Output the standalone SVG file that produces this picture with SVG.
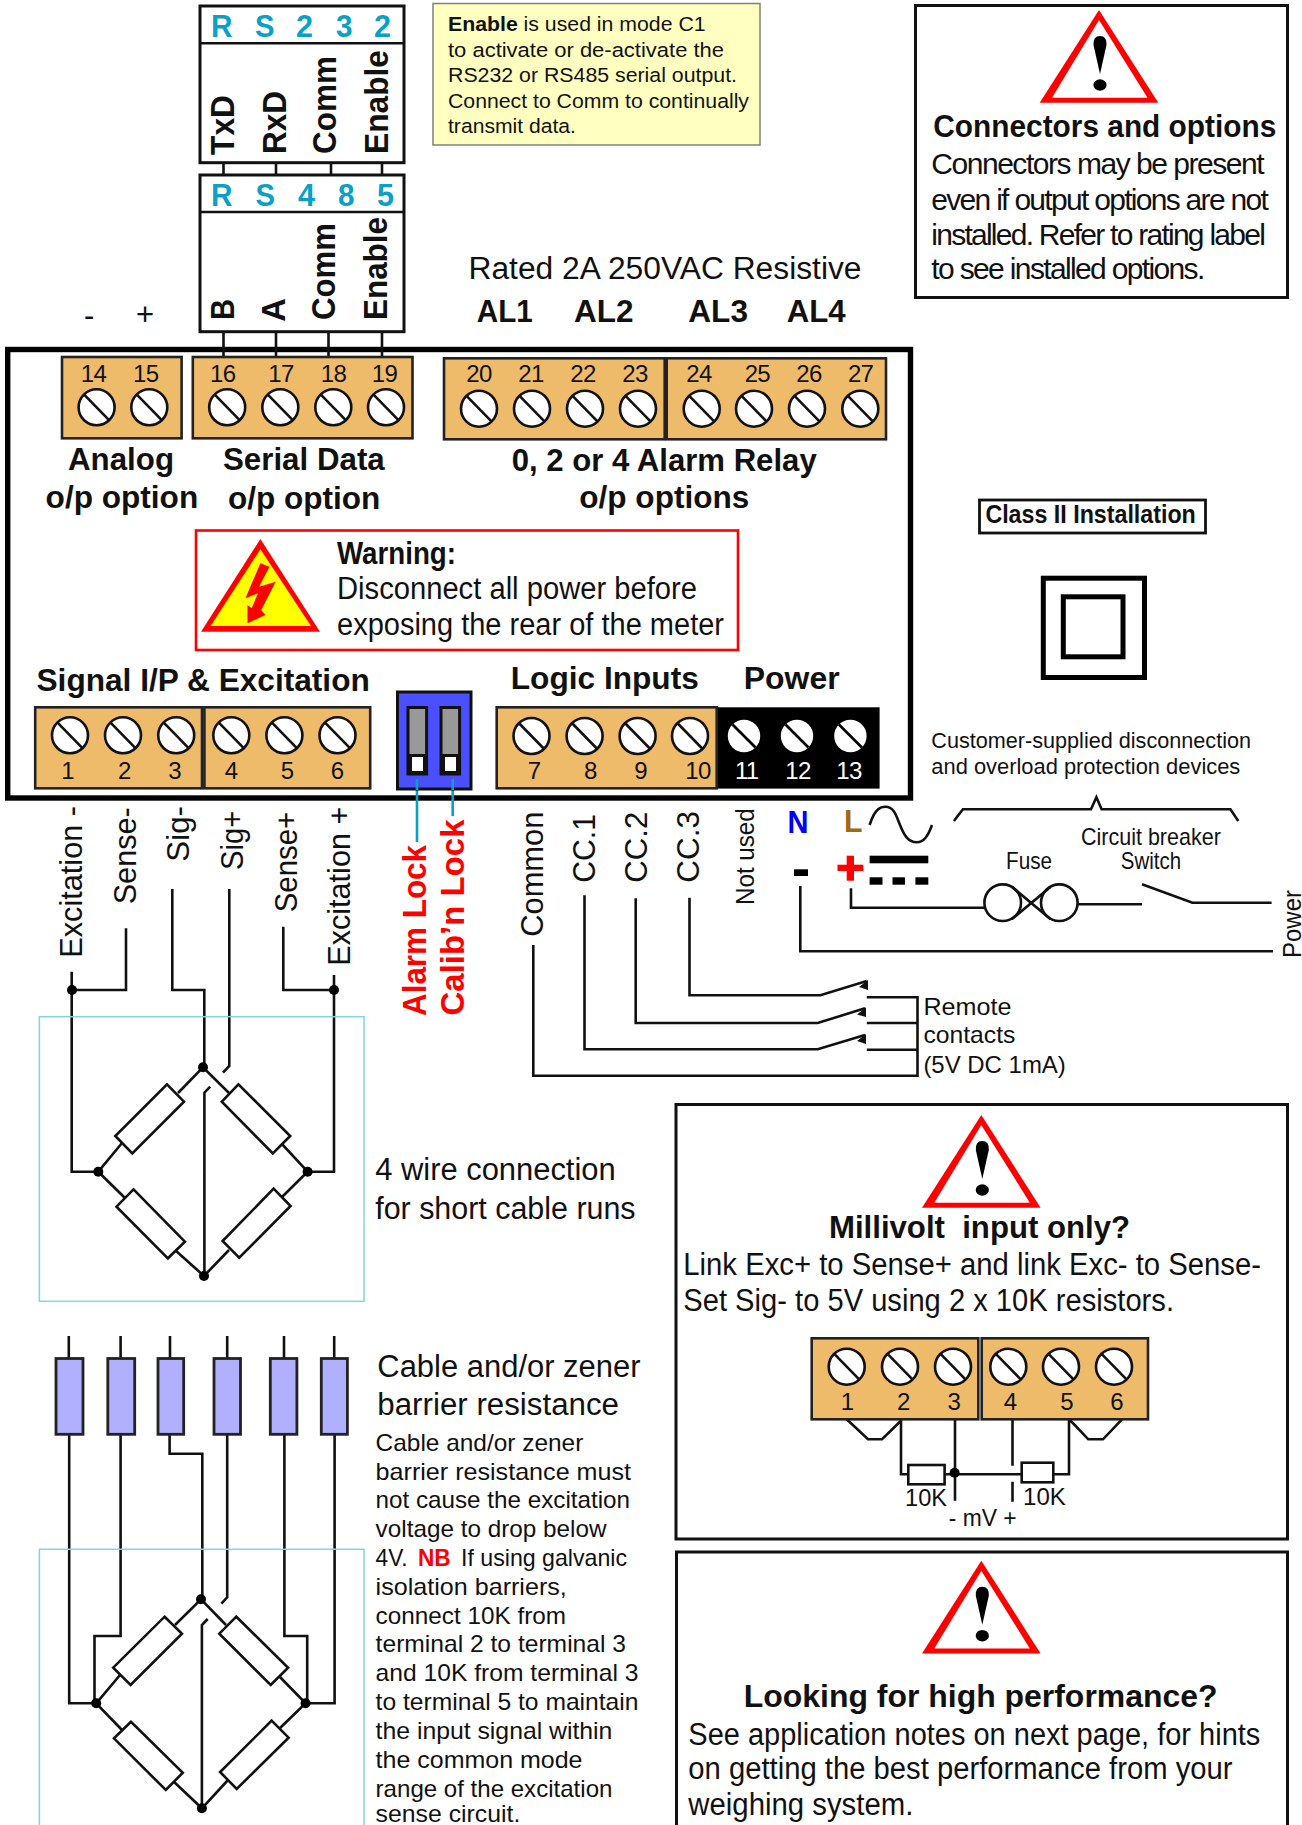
<svg xmlns="http://www.w3.org/2000/svg" width="1302" height="1825" viewBox="0 0 1302 1825">
<style>
text{font-family:"Liberation Sans",Arial,sans-serif;fill:#111}
.b{font-weight:700}
.w{fill:none;stroke:#111;stroke-width:2.6;stroke-linejoin:miter}
.box{fill:#fff;stroke:#111;stroke-width:3}
.blk{fill:#edbb6a;stroke:#222;stroke-width:2.6}
.res{fill:#fff;stroke:#111;stroke-width:2.6}
.blue{fill:#b0b0ff;stroke:#222;stroke-width:2.8}
.cy{fill:none;stroke:#80d4e8;stroke-width:1.5}
.n{font-size:24px;text-anchor:middle;letter-spacing:-.7px}
.nw{font-size:24px;text-anchor:middle;fill:#fff;letter-spacing:-.7px}
.rs{font-size:32px;font-weight:700;fill:#0aa0c8}
.v{font-size:32px}
.vb{font-size:33px;font-weight:700}
.h{font-size:31px;font-weight:700}
.t{font-size:31px}
.t2{font-size:30px}
.s{font-size:24px}
.m{font-size:20.5px}
.r{fill:#f00}
</style>
<defs>
<g id="screw"><circle r="18" fill="#fff" stroke="#111" stroke-width="2.6"/><line x1="-12.7" y1="-13" x2="12.7" y2="13" stroke="#111" stroke-width="2.6"/></g>
<g id="screww"><circle r="16.2" fill="#fff"/><line x1="-11.5" y1="-11.5" x2="11.5" y2="11.5" stroke="#000" stroke-width="2.6"/></g>
<g id="caution"><polygon points="0,0 59.3,92.7 -59.3,92.7" fill="#f00"/><polygon points="0,10 48.5,87.7 -47,87.7" fill="#fff"/><path d="M1 64 L-5.5 35 Q-6 26 1 26 Q8 26 7.5 35 Z" fill="#000"/><ellipse cx="1" cy="75" rx="6.6" ry="5.8" fill="#000"/></g>
<g id="dot"><circle r="5" fill="#000"/></g>
</defs>
<rect width="1302" height="1825" fill="#fff"/>

<g id="frame"><rect x="7.7" y="349.5" width="902.8" height="448.5" fill="none" stroke="#000" stroke-width="5.4"/></g>

<g id="connectors">
<path class="w" d="M223.5 163V175M276 163V175M331 163V175M382 163V175M223.5 332V356M276 332V356M328.5 332V356M382 332V356"/>
<path d="M417 779V842M452.7 779V816" fill="none" stroke="#0aa0c0" stroke-width="2.6"/>
<path class="w" d="M71.7 971.7V1171.7H98M126 928.3V990H72M172.3 889V990H204.3V1066M229.3 889V1066L223 1072.7M283.3 926.7V990H334M334 975V1171.7H307.6"/>
<path class="w" d="M533.3 945V1075.7H917.5V997.3H866.8M917.5 1023H866.8M917.5 1049.7H866.8"/>
<path class="w" d="M584.5 895.3V1049.3H817.7L865 1035M635.7 898.3V1023H817.7L865 1008.3M689.5 897.7V995.3H820.4L866.8 981"/>
<polygon points="866,1034 866,1044 857,1041" fill="#111"/><polygon points="866,1007.3 866,1017 857,1014.5" fill="#111"/><polygon points="868,980 868,990 859,987" fill="#111"/>
<path class="w" d="M851 888.3V907.7H984.5M1077.7 904.3H1142M1142 884.3L1192.4 902.7H1271.6M800.3 886V951.3H1273"/>
<path class="w" d="M953.9 821L962.9 809.3H1091L1096.4 797.3L1101.6 809.3H1230.4L1238.3 821"/>
<path class="w" stroke-width="3" d="M869.6 825C875 808 881 806.7 885.4 806.7C894 806.7 896 815 900 825C904 835 908 842.3 916.7 842.3C924 842.3 928 836 932 825"/>
<path class="w" d="M68.8 1336V1358M120.6 1336V1358M170 1336V1358M227.2 1336V1358M284 1336V1358M334.2 1336V1358"/>
<path class="w" d="M69.2 1434V1703.3H96M120.6 1434V1636H94.5V1703M169.6 1434V1453.7H202.3V1598M227.2 1434V1597.3L221.4 1603.7M284.4 1434V1636H307.2V1703M334.6 1434V1703.3H305.6"/>
<path class="w" d="M901 1420V1474.3H908.3M955 1419V1500.7M944.6 1474.3H1021.7M1012.5 1419V1465.7M1012.5 1481.7V1501.7M1069 1420V1474.3H1053.3M846.7 1419.3L868 1439.3H882L901 1420.7M1070 1420L1088.3 1439.3H1103L1122 1419.3"/>
</g>

<g id="rs232">
<rect class="box" x="200" y="6" width="204" height="156.7"/><path class="w" stroke-width="3" d="M200 43.3H404"/>
<text class="rs" x="211" y="36.7" textLength="21.5" lengthAdjust="spacingAndGlyphs">R</text><text class="rs" x="255" y="36.7" textLength="19.5" lengthAdjust="spacingAndGlyphs">S</text><text class="rs" x="296" y="36.7" textLength="17" lengthAdjust="spacingAndGlyphs">2</text><text class="rs" x="336" y="36.7" textLength="16.5" lengthAdjust="spacingAndGlyphs">3</text><text class="rs" x="374" y="36.7" textLength="17" lengthAdjust="spacingAndGlyphs">2</text>
<text class="vb" transform="translate(234,155) rotate(-90)" textLength="60" lengthAdjust="spacingAndGlyphs">TxD</text><text class="vb" transform="translate(286,154) rotate(-90)" textLength="63" lengthAdjust="spacingAndGlyphs">RxD</text><text class="vb" transform="translate(336,154) rotate(-90)" textLength="98" lengthAdjust="spacingAndGlyphs">Comm</text><text class="vb" transform="translate(387.6,154) rotate(-90)" textLength="104" lengthAdjust="spacingAndGlyphs">Enable</text>
</g>
<g id="rs485">
<rect class="box" x="200" y="175" width="204" height="156.7"/><path class="w" stroke-width="3" d="M200 212H404"/>
<text class="rs" x="211" y="206" textLength="21.5" lengthAdjust="spacingAndGlyphs">R</text><text class="rs" x="255.5" y="206" textLength="19.5" lengthAdjust="spacingAndGlyphs">S</text><text class="rs" x="298" y="206" textLength="17" lengthAdjust="spacingAndGlyphs">4</text><text class="rs" x="338" y="206" textLength="16.5" lengthAdjust="spacingAndGlyphs">8</text><text class="rs" x="377" y="206" textLength="17" lengthAdjust="spacingAndGlyphs">5</text>
<text class="vb" transform="translate(233.5,320) rotate(-90)" textLength="21" lengthAdjust="spacingAndGlyphs">B</text><text class="vb" transform="translate(285,321.7) rotate(-90)" textLength="23.5" lengthAdjust="spacingAndGlyphs">A</text><text class="vb" transform="translate(335,320) rotate(-90)" textLength="97" lengthAdjust="spacingAndGlyphs">Comm</text><text class="vb" transform="translate(387,320) rotate(-90)" textLength="103" lengthAdjust="spacingAndGlyphs">Enable</text>
</g>

<g id="note-enable">
<rect x="433" y="3.5" width="327" height="141.5" fill="#ffffc0" stroke="#808080" stroke-width="1.5"/>
<text class="m" x="448" y="31" textLength="257.6" lengthAdjust="spacingAndGlyphs"><tspan class="b">Enable</tspan> is used in mode C1</text>
<text class="m" x="448" y="56.7" textLength="276" lengthAdjust="spacingAndGlyphs">to activate or de-activate the</text>
<text class="m" x="448" y="82" textLength="289" lengthAdjust="spacingAndGlyphs">RS232 or RS485 serial output.</text>
<text class="m" x="448" y="107.7" textLength="301" lengthAdjust="spacingAndGlyphs">Connect to Comm to continually</text>
<text class="m" x="448" y="133" textLength="128" lengthAdjust="spacingAndGlyphs">transmit data.</text>
</g>

<g id="note-connectors">
<rect class="box" x="915.5" y="5.5" width="372" height="292"/>
<use href="#caution" x="1099" y="10"/>
<text class="h" x="933.3" y="137.3" textLength="343" lengthAdjust="spacingAndGlyphs">Connectors and options</text>
<text class="t2" x="931.3" y="174.3" textLength="333.3">Connectors may be present</text>
<text class="t2" x="931.3" y="210" textLength="337.5">even if output options are not</text>
<text class="t2" x="931.3" y="245" textLength="334.5">installed. Refer to rating label</text>
<text class="t2" x="931.3" y="279.3" textLength="274">to see installed options.</text>
</g>

<g id="ratings">
<text class="t" x="468.5" y="279.3" textLength="393" lengthAdjust="spacingAndGlyphs">Rated 2A 250VAC Resistive</text>
<text class="h" x="476.8" y="321.7" textLength="56" lengthAdjust="spacingAndGlyphs">AL1</text><text class="h" x="574" y="321.7" textLength="59.5" lengthAdjust="spacingAndGlyphs">AL2</text><text class="h" x="688.3" y="321.7" textLength="59.7" lengthAdjust="spacingAndGlyphs">AL3</text><text class="h" x="786.7" y="321.7" textLength="59" lengthAdjust="spacingAndGlyphs">AL4</text>
<text class="t" x="84" y="326">-</text><text class="t" x="136" y="325">+</text>
</g>

<g id="tb-14-15">
<rect class="blk" x="62" y="357" width="119.6" height="81.3"/>
<use href="#screw" x="96.6" y="407.3"/><use href="#screw" x="149.3" y="407.3"/>
<text class="n" x="93.5" y="381.7">14</text><text class="n" x="145.7" y="381.7">15</text>
</g>
<g id="tb-16-19">
<rect class="blk" x="192.8" y="357" width="219.7" height="81.3"/>
<use href="#screw" x="227.2" y="407.3"/><use href="#screw" x="280.3" y="407.3"/><use href="#screw" x="333.3" y="407.3"/><use href="#screw" x="386" y="407.3"/>
<text class="n" x="222.7" y="381.7">16</text><text class="n" x="281" y="381.7">17</text><text class="n" x="333.5" y="381.7">18</text><text class="n" x="384.5" y="381.7">19</text>
</g>
<g id="tb-20-23">
<rect class="blk" x="444" y="358.3" width="220.7" height="81"/>
<use href="#screw" x="479" y="408.7"/><use href="#screw" x="532" y="408.7"/><use href="#screw" x="585" y="408.7"/><use href="#screw" x="638" y="408.7"/>
<text class="n" x="479" y="381.7">20</text><text class="n" x="531" y="381.7">21</text><text class="n" x="583" y="381.7">22</text><text class="n" x="635" y="381.7">23</text>
</g>
<g id="tb-24-27">
<rect class="blk" x="666.7" y="358.3" width="219.3" height="81"/>
<use href="#screw" x="701.7" y="408.7"/><use href="#screw" x="754" y="408.7"/><use href="#screw" x="807" y="408.7"/><use href="#screw" x="860.3" y="408.7"/>
<text class="n" x="699" y="381.7">24</text><text class="n" x="757.3" y="381.7">25</text><text class="n" x="809" y="381.7">26</text><text class="n" x="860.6" y="381.7">27</text>
</g>

<g id="option-labels">
<text class="h" x="68" y="470" textLength="106" lengthAdjust="spacingAndGlyphs">Analog</text>
<text class="h" x="45.6" y="508.3" textLength="152.6" lengthAdjust="spacingAndGlyphs">o/p option</text>
<text class="h" x="223" y="470" textLength="161.7" lengthAdjust="spacingAndGlyphs">Serial Data</text>
<text class="h" x="228" y="508.5" textLength="152.2" lengthAdjust="spacingAndGlyphs">o/p option</text>
<text class="h" x="511.7" y="470.7" textLength="305" lengthAdjust="spacingAndGlyphs">0, 2 or 4 Alarm Relay</text>
<text class="h" x="579.3" y="508.3" textLength="170" lengthAdjust="spacingAndGlyphs">o/p options</text>
</g>

<g id="warning">
<rect x="196" y="530.5" width="542" height="119.5" fill="#fff" stroke="#f00" stroke-width="2.6"/>
<polygon points="260.4,539 320,631.7 201,631.7" fill="#f00"/>
<polygon points="260.4,549.3 311,626 210.6,626" fill="#ff0"/>
<polygon points="260.4,563.3 269.5,566.7 259,586.7 275.7,581.7 261.2,610 265.3,615 247.5,623.3 247.5,605 251.7,608.3 257.9,593.3 245.4,598.3" fill="#f00"/>
<text class="h" x="337" y="564" textLength="119" lengthAdjust="spacingAndGlyphs">Warning:</text>
<text class="t" x="337" y="599.3" textLength="360" lengthAdjust="spacingAndGlyphs">Disconnect all power before</text>
<text class="t" x="337" y="635" textLength="387" lengthAdjust="spacingAndGlyphs">exposing the rear of the meter</text>
</g>

<g id="section-labels">
<text class="h" x="36.5" y="690.7" textLength="333.3" lengthAdjust="spacingAndGlyphs">Signal I/P &amp; Excitation</text>
<text class="h" x="510.8" y="689.3" textLength="188" lengthAdjust="spacingAndGlyphs">Logic Inputs</text>
<text class="h" x="743.8" y="689.3" textLength="95.8" lengthAdjust="spacingAndGlyphs">Power</text>
</g>

<g id="tb-1-3">
<rect class="blk" x="35.2" y="707.3" width="166.8" height="81"/>
<use href="#screw" x="70" y="735.3"/><use href="#screw" x="123" y="735.3"/><use href="#screw" x="176.2" y="735.3"/>
<text class="n" x="67.6" y="779">1</text><text class="n" x="124.4" y="779">2</text><text class="n" x="174.5" y="779">3</text>
</g>
<g id="tb-4-6">
<rect class="blk" x="204.4" y="707.3" width="165.8" height="81"/>
<use href="#screw" x="231.3" y="735.3"/><use href="#screw" x="284.4" y="735.3"/><use href="#screw" x="337.5" y="735.3"/>
<text class="n" x="231" y="779">4</text><text class="n" x="287" y="779">5</text><text class="n" x="337" y="779">6</text>
</g>
<g id="dip-switch">
<rect x="397.5" y="692" width="73.5" height="97" fill="#4a50ff" stroke="#111" stroke-width="3"/>
<rect x="408" y="707.5" width="18.6" height="66.5" fill="#999" stroke="#111" stroke-width="3"/>
<rect x="441" y="707.5" width="18.6" height="66.5" fill="#999" stroke="#111" stroke-width="3"/>
<rect x="410.5" y="755.5" width="14" height="17" fill="#fff" stroke="#111" stroke-width="3"/>
<rect x="443.5" y="755.5" width="14" height="17" fill="#fff" stroke="#111" stroke-width="3"/>
<path d="M417 779V790M452.7 779V790" fill="none" stroke="#0aa0c0" stroke-width="2.6"/>
</g>
<g id="tb-7-10">
<rect class="blk" x="496.7" y="707.3" width="220" height="81"/>
<use href="#screw" x="531.5" y="736"/><use href="#screw" x="584.6" y="736"/><use href="#screw" x="637.6" y="736"/><use href="#screw" x="690" y="736"/>
<text class="n" x="534" y="779">7</text><text class="n" x="590.4" y="779">8</text><text class="n" x="640.5" y="779">9</text><text class="n" x="698" y="779">10</text>
</g>
<g id="tb-11-13">
<rect x="718" y="707.3" width="161.6" height="81.3" fill="#000"/>
<use href="#screww" x="744" y="736"/><use href="#screww" x="797" y="736"/><use href="#screww" x="850.4" y="736"/>
<text class="nw" x="746.7" y="779">11</text><text class="nw" x="798" y="779">12</text><text class="nw" x="849" y="779">13</text>
</g>

<g id="signal-labels">
<text class="v" transform="translate(81.7,957.7) rotate(-90)" textLength="151.7" lengthAdjust="spacingAndGlyphs">Excitation -</text>
<text class="v" transform="translate(136,904.3) rotate(-90)" textLength="97" lengthAdjust="spacingAndGlyphs">Sense-</text>
<text class="v" transform="translate(189,861.7) rotate(-90)" textLength="55.7" lengthAdjust="spacingAndGlyphs">Sig-</text>
<text class="v" transform="translate(243.3,870) rotate(-90)" textLength="59.3" lengthAdjust="spacingAndGlyphs">Sig+</text>
<text class="v" transform="translate(296.7,912.3) rotate(-90)" textLength="100.6" lengthAdjust="spacingAndGlyphs">Sense+</text>
<text class="v" transform="translate(350,965.7) rotate(-90)" textLength="159" lengthAdjust="spacingAndGlyphs">Excitation +</text>
<text class="vb r" transform="translate(426,1016) rotate(-90)" textLength="171" lengthAdjust="spacingAndGlyphs">Alarm Lock</text>
<text class="vb r" transform="translate(464,1015.5) rotate(-90)" textLength="196" lengthAdjust="spacingAndGlyphs">Calib’n Lock</text>
</g>
<g id="logic-labels">
<text class="v" transform="translate(543,936.7) rotate(-90)" textLength="125" lengthAdjust="spacingAndGlyphs">Common</text>
<text class="v" transform="translate(595,882.7) rotate(-90)" textLength="68.7" lengthAdjust="spacingAndGlyphs">CC.1</text>
<text class="v" transform="translate(646.8,882.7) rotate(-90)" textLength="71" lengthAdjust="spacingAndGlyphs">CC.2</text>
<text class="v" transform="translate(698.5,882.7) rotate(-90)" textLength="71.7" lengthAdjust="spacingAndGlyphs">CC.3</text>
<text transform="translate(754.4,905) rotate(-90)" font-size="25" textLength="96.7" lengthAdjust="spacingAndGlyphs">Not used</text>
<text transform="translate(1300.6,958) rotate(-90)" font-size="25" textLength="68" lengthAdjust="spacingAndGlyphs">Power</text>
</g>

<g id="power-symbols">
<text class="h" x="787.5" y="832.7" style="fill:#00f" textLength="21" lengthAdjust="spacingAndGlyphs">N</text>
<text class="h" x="844" y="832" style="fill:#a06a10" textLength="18.5" lengthAdjust="spacingAndGlyphs">L</text>
<rect x="869.6" y="855.7" width="58.7" height="7.6" fill="#000"/>
<rect x="869.6" y="877.3" width="12.9" height="7.4" fill="#000"/><rect x="892.5" y="877.3" width="12.5" height="7.4" fill="#000"/><rect x="915.4" y="877.3" width="12.9" height="7.4" fill="#000"/>
<rect x="794" y="869.3" width="14" height="6.7" fill="#000"/>
<rect x="837.5" y="864.7" width="25.8" height="6.3" fill="#f00"/><rect x="846.7" y="855.7" width="7.3" height="25" fill="#f00"/>
<circle class="w" cx="1002.7" cy="902.7" r="18.3"/><circle class="w" cx="1059.3" cy="902.7" r="18.3"/>
<path class="w" d="M1011.7 886.7L1050.7 919.3M1011.7 919.3L1050.7 886.7"/>
<text x="1006" y="869" font-size="24" textLength="46" lengthAdjust="spacingAndGlyphs">Fuse</text>
<text x="1081" y="845" font-size="24" textLength="139.8" lengthAdjust="spacingAndGlyphs">Circuit breaker</text>
<text x="1120.8" y="869" font-size="24" textLength="60.2" lengthAdjust="spacingAndGlyphs">Switch</text>
<text x="931.3" y="748.3" font-size="22.5" textLength="319.7" lengthAdjust="spacingAndGlyphs">Customer-supplied disconnection</text>
<text x="931.3" y="774.3" font-size="22.5" textLength="309" lengthAdjust="spacingAndGlyphs">and overload protection devices</text>
</g>

<g id="class-ii">
<rect x="979.5" y="500" width="226" height="33" fill="#fff" stroke="#111" stroke-width="2.8"/>
<text x="985.4" y="523.3" font-size="26.5" font-weight="700" textLength="210.4" lengthAdjust="spacingAndGlyphs">Class II Installation</text>
<rect x="1043.3" y="578.2" width="101.2" height="99.3" fill="none" stroke="#000" stroke-width="5"/>
<rect x="1063.3" y="596.8" width="59.7" height="60" fill="none" stroke="#000" stroke-width="5"/>
</g>

<g id="remote-contacts">
<text class="s" x="923.4" y="1015" textLength="88" lengthAdjust="spacingAndGlyphs">Remote</text>
<text class="s" x="923.4" y="1043.3" textLength="92" lengthAdjust="spacingAndGlyphs">contacts</text>
<text class="s" x="923.4" y="1072.7" textLength="142.4" lengthAdjust="spacingAndGlyphs">(5V DC 1mA)</text>
</g>

<g id="bridge-4wire">
<rect class="cy" x="39.4" y="1016.7" width="324.6" height="284.6"/>
<path class="w" d="M98.3 1171.7L122 1143M178 1093L203 1067.3L229 1093M281 1143L307.6 1171.7L281 1198M229 1250L204 1276L175 1250M125 1198L98.3 1171.7M204.4 1276V1092.7L210.2 1086.7"/>
<polygon class="res" points="167,1084.3 184,1101.7 132.3,1153.3 115.3,1136"/>
<polygon class="res" points="238.4,1084.3 221.8,1101.7 272.8,1153.3 290.2,1136"/>
<polygon class="res" points="133.5,1189.3 116.5,1206.7 167.9,1258.3 184.9,1241.7"/>
<polygon class="res" points="273.6,1188.7 290.6,1206 239.2,1257.7 222.6,1241"/>
<use href="#dot" x="72" y="990"/><use href="#dot" x="334" y="990"/><use href="#dot" x="203" y="1067.3"/><use href="#dot" x="98.3" y="1171.7"/><use href="#dot" x="307.6" y="1171.7"/><use href="#dot" x="204" y="1276"/>
<text class="t" x="375.2" y="1180" textLength="240.5" lengthAdjust="spacingAndGlyphs">4 wire connection</text>
<text class="t" x="375.2" y="1219" textLength="260.4" lengthAdjust="spacingAndGlyphs">for short cable runs</text>
</g>

<g id="cable-resistors">
<rect class="blue" x="56" y="1358.5" width="27" height="75.8"/><rect class="blue" x="107.8" y="1358.5" width="26.9" height="75.8"/><rect class="blue" x="158" y="1358.5" width="25.7" height="75.8"/><rect class="blue" x="214" y="1358.5" width="26.5" height="75.8"/><rect class="blue" x="270.3" y="1358.5" width="26.6" height="75.8"/><rect class="blue" x="321.3" y="1358.5" width="26.1" height="75.8"/>
</g>

<g id="bridge-barrier">
<path class="cy" d="M39.4 1825V1549.3H364V1825"/>
<path class="w" d="M96.2 1703.3L120 1675M175 1625L201 1599.3L226 1625M278 1675L305.6 1703.3L278 1730M228 1780L201.9 1808.3L172 1780M122 1730L96.2 1703.3M201.9 1808.3V1625L207.7 1619"/>
<polygon class="res" points="164.6,1616.7 182,1633.7 130.6,1685 113.2,1667.7"/>
<polygon class="res" points="236.3,1616.7 219.3,1633.7 270.7,1685 288.1,1667.7"/>
<polygon class="res" points="131,1721.7 114,1738.3 165.8,1790 182.8,1772.7"/>
<polygon class="res" points="271.6,1720.7 288.6,1737.7 236.7,1789 220.1,1772"/>
<use href="#dot" x="201" y="1599.3"/><use href="#dot" x="96.2" y="1703.3"/><use href="#dot" x="305.6" y="1703.3"/><use href="#dot" x="201.9" y="1808.3"/>
</g>

<g id="barrier-text">
<text class="t" x="377.3" y="1376.7" textLength="263.2" lengthAdjust="spacingAndGlyphs">Cable and/or zener</text>
<text class="t" x="377.3" y="1415" textLength="241.7" lengthAdjust="spacingAndGlyphs">barrier resistance</text>
<text class="s" x="375.6" y="1451" textLength="207.7" lengthAdjust="spacingAndGlyphs">Cable and/or zener</text>
<text class="s" x="375.6" y="1480" textLength="255.4" lengthAdjust="spacingAndGlyphs">barrier resistance must</text>
<text class="s" x="375.6" y="1508.3" textLength="254.4" lengthAdjust="spacingAndGlyphs">not cause the excitation</text>
<text class="s" x="375.6" y="1536.7" textLength="230.9" lengthAdjust="spacingAndGlyphs">voltage to drop below</text>
<text class="s" x="375.6" y="1565.7" textLength="32" lengthAdjust="spacingAndGlyphs">4V.</text><text class="s b r" x="418" y="1565.7" textLength="32.7" lengthAdjust="spacingAndGlyphs">NB</text><text class="s" x="461" y="1565.7" textLength="166" lengthAdjust="spacingAndGlyphs">If using galvanic</text>
<text class="s" x="375.6" y="1595" textLength="191.2" lengthAdjust="spacingAndGlyphs">isolation barriers,</text>
<text class="s" x="375.6" y="1624" textLength="190.4" lengthAdjust="spacingAndGlyphs">connect 10K from</text>
<text class="s" x="375.6" y="1652.3" textLength="250.4" lengthAdjust="spacingAndGlyphs">terminal 2 to terminal 3</text>
<text class="s" x="375.6" y="1681" textLength="262.9" lengthAdjust="spacingAndGlyphs">and 10K from terminal 3</text>
<text class="s" x="375.6" y="1710" textLength="262.9" lengthAdjust="spacingAndGlyphs">to terminal 5 to maintain</text>
<text class="s" x="375.6" y="1739" textLength="236.8" lengthAdjust="spacingAndGlyphs">the input signal within</text>
<text class="s" x="375.6" y="1767.7" textLength="206.9" lengthAdjust="spacingAndGlyphs">the common mode</text>
<text class="s" x="375.6" y="1796.7" textLength="236.8" lengthAdjust="spacingAndGlyphs">range of the excitation</text>
<text class="s" x="375.6" y="1822" textLength="144.7" lengthAdjust="spacingAndGlyphs">sense circuit.</text>
</g>

<g id="note-millivolt">
<rect x="676" y="1104.5" width="611.5" height="434.5" fill="none" stroke="#111" stroke-width="3"/>
<use href="#caution" x="981.3" y="1115"/>
<text class="h" x="829" y="1238.3" textLength="301" lengthAdjust="spacingAndGlyphs" xml:space="preserve">Millivolt  input only?</text>
<text class="t" x="683.3" y="1275.3" textLength="577.7" lengthAdjust="spacingAndGlyphs">Link Exc+ to Sense+ and link Exc- to Sense-</text>
<text class="t" x="683.3" y="1310.7" textLength="490.7" lengthAdjust="spacingAndGlyphs">Set Sig- to 5V using 2 x 10K resistors.</text>
<rect class="blk" x="811.7" y="1338.3" width="166.6" height="81"/>
<rect class="blk" x="981.7" y="1338.3" width="166.3" height="81"/>
<use href="#screw" x="846.7" y="1366.7"/><use href="#screw" x="900" y="1366.7"/><use href="#screw" x="953" y="1366.7"/><use href="#screw" x="1008.3" y="1366.7"/><use href="#screw" x="1061" y="1366.7"/><use href="#screw" x="1114" y="1366.7"/>
<text class="n" x="847" y="1410">1</text><text class="n" x="903.3" y="1410">2</text><text class="n" x="953.8" y="1410">3</text><text class="n" x="1010" y="1410">4</text><text class="n" x="1066.7" y="1410">5</text><text class="n" x="1116.7" y="1410">6</text>
<rect class="res" x="908.3" y="1465" width="36.3" height="19.3"/>
<rect class="res" x="1021.7" y="1462.7" width="31.6" height="19.6"/>
<use href="#dot" x="954.6" y="1472.8"/>
<text class="s" x="905" y="1506" textLength="42" lengthAdjust="spacingAndGlyphs">10K</text><text class="s" x="1023" y="1505" textLength="42.8" lengthAdjust="spacingAndGlyphs">10K</text>
<text class="s" x="948.8" y="1526" textLength="67.9" lengthAdjust="spacingAndGlyphs">- mV +</text>
</g>

<g id="note-performance">
<path d="M1287.5 1825V1552H676.5V1825" fill="none" stroke="#111" stroke-width="3"/>
<use href="#caution" x="981.3" y="1560.7"/>
<text class="h" x="743.8" y="1706.7" textLength="473.7" lengthAdjust="spacingAndGlyphs">Looking for high performance?</text>
<text class="t" x="688.3" y="1745" textLength="572" lengthAdjust="spacingAndGlyphs">See application notes on next page, for hints</text>
<text class="t" x="688.3" y="1779.3" textLength="544.2" lengthAdjust="spacingAndGlyphs">on getting the best performance from your</text>
<text class="t" x="688.3" y="1815" textLength="225" lengthAdjust="spacingAndGlyphs">weighing system.</text>
</g>
</svg>
